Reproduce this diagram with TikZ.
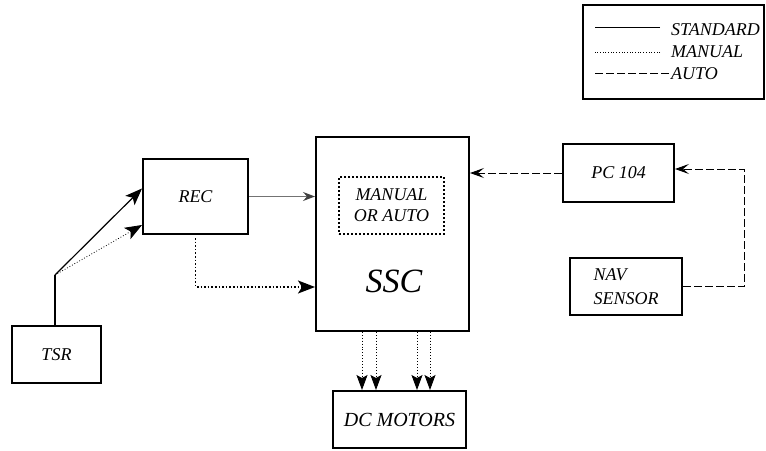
\documentclass[tikz,border=0pt]{standalone}
\usepackage{fontspec}
\setmainfont{Liberation Serif}
\usetikzlibrary{arrows.meta,positioning,calc}

\tikzset{
  blk/.style={draw,line width=2pt,inner sep=0pt,align=center},
  keytext/.style={anchor=west,inner sep=0pt},
  stdline/.style={line width=1.2pt},
  manline/.style={dotted,line width=0.9pt},
  autoline/.style={dash pattern=on 8pt off 3pt,line width=1pt},
}

\begin{document}
\begin{tikzpicture}[x=1pt,y=-1pt,font=\itshape\fontsize{18}{21}\selectfont,
  >={Stealth[length=17pt,width=13pt,inset=4pt]}]
  \useasboundingbox (0,0) rectangle (766,450);

  % key in the top right corner
  \node[draw,line width=1.2pt,minimum width=181pt,minimum height=94pt] (key) at (673.5,52) {};
  \node[keytext] (keystd) at (671,30) {STANDARD};
  \node[keytext] (keyman) at (671,52) {MANUAL};
  \node[keytext] (keyauto) at (671,74) {AUTO};
  \draw[line width=1pt] ([xshift=-11pt,yshift=3pt]keystd.west) -- ++(-65,0);
  \draw[dotted,line width=0.7pt] ([xshift=-11pt]keyman.west) -- ++(-65,0);
  \draw[dash pattern=on 8pt off 3pt,line width=0.9pt] ([xshift=-2pt,yshift=1pt]keyauto.west) -- ++(-74,0);

  % blocks
  \node[blk,minimum width=89pt,minimum height=57pt] (tsr) at (56.5,354.5) {TSR};
  \node[blk,minimum width=105pt,minimum height=75pt] (rec) at (195.5,196.5) {REC};
  \node[blk,minimum width=153pt,minimum height=194pt] (ssc) at (392.5,234) {};
  \node[font=\itshape\fontsize{34}{38}\selectfont] (ssclabel) at (394,281) {SSC};
  \node[blk,dotted,line width=2pt,minimum width=105pt,minimum height=57pt] (mode) at (391.5,205.5)
    {MANUAL\\OR AUTO};
  \node[blk,minimum width=111pt,minimum height=58pt] (pc) at (618.5,173) {PC 104};
  \node[blk,align=left,minimum width=112pt,minimum height=57pt,
    font=\itshape\fontsize{18}{24}\selectfont] (nav) at (626,286.5) {NAV\\SENSOR};
  \node[blk,minimum width=133pt,minimum height=57pt,
    font=\itshape\fontsize{20}{24}\selectfont] (dcm) at (399.5,419.5) {DC MOTORS};

  % TSR to REC, split at a junction
  \coordinate (junc) at (55,275);
  \draw[stdline] (tsr.north -| junc) -- (junc);
  \draw[stdline,->] (junc) -- ([yshift=8pt]rec.west);
  \draw[dotted,line width=0.8pt,->] (junc) -- ([yshift=10pt]rec.south west);

  % REC to SSC
  \draw[line width=1.2pt,black!55,{Stealth[length=12pt,width=9pt,inset=4pt,black!75]}-]
    (rec.east -| ssc.west) -- (rec.east);
  \draw[dotted,line width=1.6pt,->] ([yshift=-3pt]rec.south) |- ([yshift=-53pt]ssc.west);

  % PC 104 and NAV SENSOR
  \draw[autoline,-{Stealth[length=14pt,width=10pt,inset=6pt]}] (pc.west) -- (pc.west -| ssc.east);
  \coordinate (loop) at (744,169);
  \draw[autoline,-{Stealth[length=14pt,width=10pt,inset=6pt]}] (nav.east) -| (loop) -- ([yshift=4pt]pc.east);

  % SSC to DC MOTORS
  \foreach \xx in {362,376,417,430}
    \draw[manline,-{Stealth[length=15pt,width=11pt,inset=3pt]}] (ssc.south -| \xx,0) -- (dcm.north -| \xx,0);
\end{tikzpicture}
\end{document}
